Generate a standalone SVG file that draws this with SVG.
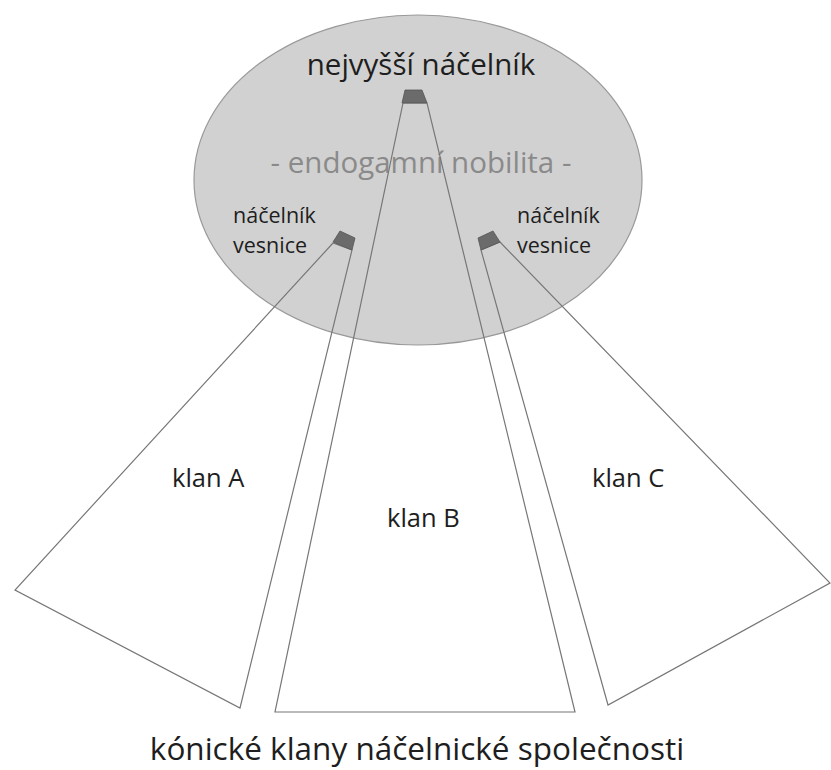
<svg xmlns="http://www.w3.org/2000/svg" width="831" height="770" viewBox="0 0 831 770">
<style>
.t{font-family:"Open Sans","Noto Sans","Liberation Sans",sans-serif;fill:#1e1e1e}
.clan{fill:none;stroke:#777;stroke-width:1.2}
.mark{fill:#6b6b6b;stroke:#555;stroke-width:0.8}
</style>
<rect width="831" height="770" fill="#fff"/>
<g id="nobility">
<ellipse cx="418" cy="180" rx="224" ry="165" fill="#d1d1d1" stroke="#999" stroke-width="1.2"/>
<text class="t" x="421" y="173" text-anchor="middle" font-size="29.5" style="fill:#8a8a8a">- endogamní nobilita -</text>
</g>
<g id="connectors">
<polygon id="klanA-shape" class="clan" points="333,243 352,250 240,708 15,590"/>
<polygon id="klanB-shape" class="clan" points="403,103 427,103 575,712 275,712"/>
<polygon id="klanC-shape" class="clan" points="481,250 500,242 830,583 608,705"/>
</g>
<g id="top-chief">
<polygon class="mark" points="405,90 422,90 427,103 402,103"/>
<text class="t" x="421" y="75" text-anchor="middle" font-size="29.5">nejvyšší náčelník</text>
</g>
<g id="village-chief-left">
<polygon class="mark" points="340,231 355,238 352,250 333,242"/>
<text class="t" x="233" y="223" font-size="21.5">náčelník</text>
<text class="t" x="233" y="253" font-size="21.5">vesnice</text>
</g>
<g id="village-chief-right">
<polygon class="mark" points="493,231 500,242 481,250 478,238"/>
<text class="t" x="517" y="223" font-size="21.5">náčelník</text>
<text class="t" x="517" y="253" font-size="21.5">vesnice</text>
</g>
<g id="klanA"><text class="t" x="172" y="487" font-size="25.5">klan A</text></g>
<g id="klanB"><text class="t" x="387" y="527" font-size="25.5">klan B</text></g>
<g id="klanC"><text class="t" x="592" y="487" font-size="25.5">klan C</text></g>
<g id="caption"><text class="t" x="417" y="760" text-anchor="middle" font-size="31.5">kónické klany náčelnické společnosti</text></g>
</svg>
